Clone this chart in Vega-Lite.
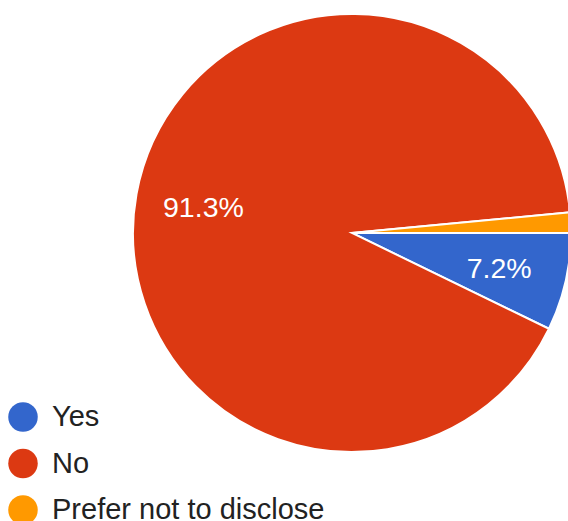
{
  "$schema": "https://vega.github.io/schema/vega-lite/v6.json",
  "autosize": "none",
  "width": 432,
  "height": 466,
  "padding": {"left": 136, "top": 0, "right": 0, "bottom": 55},
  "background": "white",
  "data": {"values": [
    {"answer": "Yes", "pct": 7.2, "label": "7.2%", "order": 1},
    {"answer": "No", "pct": 91.3, "label": "91.3%", "order": 2},
    {"answer": "Prefer not to disclose", "pct": 1.5, "label": "", "order": 3}
  ]},
  "encoding": {
    "theta": {"field": "pct", "type": "quantitative", "stack": true, "scale": {"range": [1.5707963, 7.8539816]}},
    "order": {"field": "order", "type": "quantitative"},
    "color": {
      "field": "answer", "type": "nominal",
      "scale": {"domain": ["Yes", "No", "Prefer not to disclose"], "range": ["#3366cc", "#dc3912", "#ff9900"]},
      "legend": {
        "orient": "none", "legendX": -128, "legendY": 402, "title": null,
        "symbolType": "circle", "symbolSize": 870, "symbolStrokeWidth": 0,
        "labelFont": "Liberation Sans", "labelFontSize": 29, "labelColor": "#222222",
        "labelOffset": 14, "rowPadding": 16.5, "padding": 0, "labelLimit": 400
      }
    }
  },
  "layer": [
    {"mark": {"type": "arc", "outerRadius": 219, "stroke": "white", "strokeWidth": 2}},
    {"mark": {"type": "text", "radius": 151, "font": "Liberation Sans", "fontSize": 28.5, "color": "white", "dy": 2},
     "encoding": {"text": {"field": "label"}, "color": {"value": "white"}}}
  ],
  "config": {"view": {"stroke": null}}
}
